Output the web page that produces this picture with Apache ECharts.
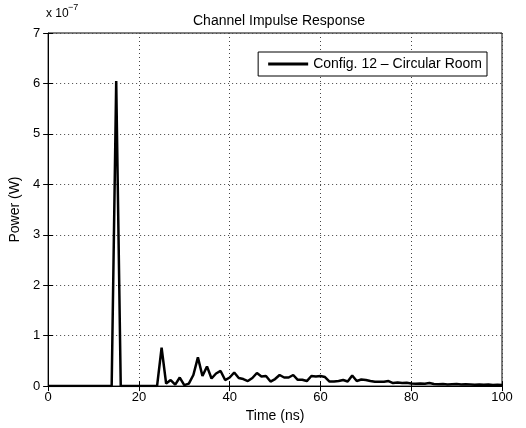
<!DOCTYPE html>
<html><head><meta charset="utf-8">
<script src="https://cdn.jsdelivr.net/npm/echarts@6/dist/echarts.min.js"></script>
<style>html,body{margin:0;padding:0;background:#fff}#c{width:526px;height:428px}</style>
</head><body><div id="c"></div>
<script>
// Time in ns (1 ns steps)
const timeNs = [];
for (let i = 0; i <= 100; i++) timeNs.push(i);
// Power in units of 1e-7 W
const powerE7 = [
 0,0,0,0,0,0,0,0,0,0, 0,0,0,0,0,6.05,0,0,0,0,
 0,0,0,0,0,0.76,0.05,0.12,0.03,0.17, 0.02,0.05,0.22,0.57,0.2,0.39,0.15,0.25,0.3,0.12,
 0.17,0.27,0.16,0.14,0.1,0.16,0.26,0.19,0.2,0.09, 0.14,0.22,0.17,0.17,0.22,0.125,0.125,0.1,0.2,0.19,
 0.2,0.18,0.09,0.09,0.1,0.12,0.09,0.21,0.1,0.13, 0.12,0.1,0.085,0.085,0.085,0.1,0.06,0.07,0.06,0.065,
 0.05,0.046,0.053,0.046,0.06,0.04,0.035,0.04,0.03,0.035, 0.04,0.03,0.035,0.03,0.025,0.03,0.025,0.03,0.02,0.025,
 0.02
];
const xTicks = [0,20,40,60,80,100];
const yTicks = [0,1,2,3,4,5,6,7];
const seriesName = 'Config. 12 \u2013 Circular Room';
const titleText = 'Channel Impulse Response';
const xName = 'Time (ns)';
const yName = 'Power (W)';

const chart = echarts.init(document.getElementById('c'), null, {renderer:'canvas'});
const font = 'Liberation Sans, Arial, Helvetica, sans-serif';
const grid = {left:47, right:24, top:33, bottom:40};
const gridLine = {show:true, lineStyle:{color:'#444', type:[1,3], width:1}};
chart.setOption({
  animation:false,
  backgroundColor:'#fff',
  textStyle:{fontFamily:font},
  title:{text:titleText, left:274, textAlign:'center', top:9,
    textStyle:{fontSize:14, fontWeight:'normal', color:'#000', fontFamily:font}},
  grid:Object.assign({show:true, borderColor:'#000', borderWidth:1, backgroundColor:'transparent'}, grid),
  legend:{data:[seriesName], right:39, top:52, orient:'horizontal',
    icon:'rect',
    backgroundColor:'#fff', borderColor:'#000', borderWidth:1, borderRadius:0,
    padding:[5,5,5,10], itemWidth:40, itemHeight:3, itemGap:6,
    textStyle:{fontSize:14, color:'#000', fontFamily:font, padding:[0,0,0,0]}},
  xAxis:[{type:'value', min:0, max:100, interval:20, position:'bottom',
    name:xName, nameLocation:'middle', nameGap:20,
    nameTextStyle:{fontSize:14, color:'#000', fontFamily:font},
    axisLine:{show:true, lineStyle:{color:'#000', width:1}},
    axisTick:{show:true, inside:true, length:5, lineStyle:{color:'#000'}},
    axisLabel:{fontSize:13, color:'#000', margin:5, fontFamily:font},
    splitLine:gridLine},
   {type:'value', min:0, max:100, interval:20, position:'top',
    axisLine:{show:false}, axisTick:{show:true, inside:true, length:5, lineStyle:{color:'#000'}},
    axisLabel:{show:false}, splitLine:{show:false}}],
  yAxis:[{type:'value', min:0, max:7, interval:1, position:'left',
    name:yName, nameLocation:'middle', nameGap:22, nameRotate:90,
    nameTextStyle:{fontSize:14, color:'#000', fontFamily:font},
    axisLine:{show:true, lineStyle:{color:'#000', width:1}},
    axisTick:{show:true, inside:true, length:5, lineStyle:{color:'#000'}},
    axisLabel:{fontSize:13, color:'#000', margin:8, fontFamily:font},
    splitLine:gridLine},
   {type:'value', min:0, max:7, interval:1, position:'right',
    axisLine:{show:false}, axisTick:{show:true, inside:true, length:5, lineStyle:{color:'#000'}},
    axisLabel:{show:false}, splitLine:{show:false}}],
  graphic:[
    {type:'text', left:46, top:8, style:{text:'x 10', fontSize:12, fontFamily:font, fill:'#000'}},
    {type:'text', left:68, top:3, style:{text:'\u22127', fontSize:9, fontFamily:font, fill:'#000'}}],
  series:[{name:seriesName, type:'line', xAxisIndex:0, yAxisIndex:0,
    data:timeNs.map((t,i)=>[t, powerE7[i]]),
    showSymbol:false, symbol:'none',
    lineStyle:{color:'#000', width:2.5}, itemStyle:{color:'#000'}}]
});
</script></body></html>
